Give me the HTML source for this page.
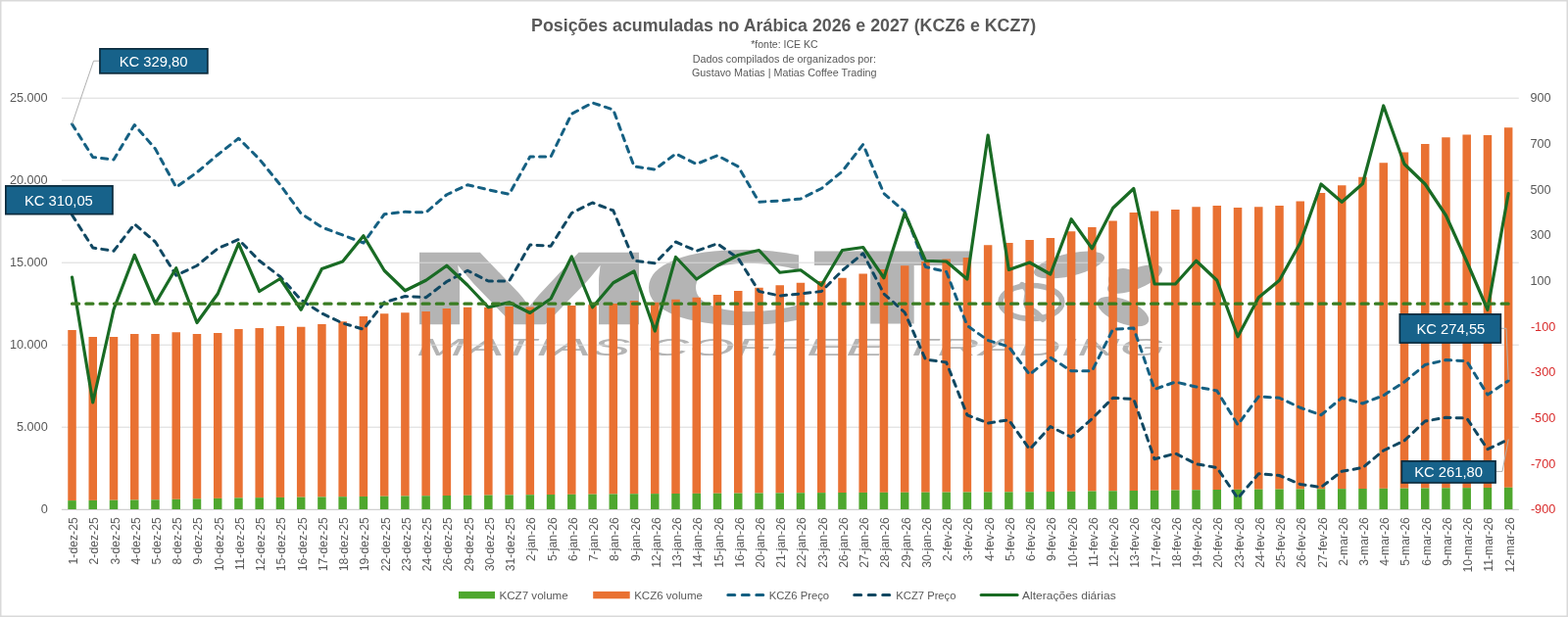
<!DOCTYPE html>
<html lang="pt-BR">
<head>
<meta charset="utf-8">
<title>Posições acumuladas no Arábica 2026 e 2027 (KCZ6 e KCZ7)</title>
<style>
html,body{margin:0;padding:0;background:#fff;}
body{width:1600px;height:630px;overflow:hidden;font-family:"Liberation Sans",sans-serif;}
svg{display:block;}
text{font-family:"Liberation Sans",sans-serif;}
.ax{font-size:12.7px;fill:#595959;}
.neg{font-size:12.7px;fill:#d92b2b;}
.xl{font-size:12.2px;fill:#595959;}
.lg{font-size:11.6px;fill:#595959;}
.sub{font-size:10.5px;fill:#595959;}
.cb{font-size:14.8px;fill:#fff;}
</style>
</head>
<body>
<svg width="1600" height="630" viewBox="0 0 1600 630">
<rect x="0" y="0" width="1600" height="630" fill="#fff"/>
<rect x="0.75" y="0.75" width="1598.5" height="628.5" fill="none" stroke="#d9d9d9" stroke-width="1.5"/>
<g id="watermark" fill="#b4b4b4">
<text transform="translate(406.57 331.3) scale(2.9997 1)" font-weight="bold" font-size="106.8" style="font-family:'Liberation Sans',sans-serif">M</text>
<text transform="translate(649.71 331.3) scale(2.4478 1)" font-weight="bold" font-size="100.8" style="font-family:'DejaVu Sans','Liberation Sans',sans-serif">C</text>
<text transform="translate(829.84 331.3) scale(2.3476 1)" font-weight="bold" font-size="100.8" style="font-family:'DejaVu Sans','Liberation Sans',sans-serif">T</text>
<text x="425" y="363.3" font-style="italic" font-size="23.5" textLength="764" lengthAdjust="spacingAndGlyphs">MATIAS COFFEE TRADING</text>
<g id="branch"><ellipse cx="1052.4" cy="308.5" rx="31.5" ry="17" fill="none" stroke="#b4b4b4" stroke-width="5.5"/><path d="M1043 291 C1056 298 1040 310 1052 316 C1060 320 1062 324 1064 326" fill="none" stroke="#b4b4b4" stroke-width="6" stroke-linecap="round"/><ellipse cx="1091" cy="270.5" rx="37" ry="11.5" transform="rotate(-13 1091 270.5)"/><ellipse cx="1158" cy="285" rx="30" ry="10.5" transform="rotate(-22 1158 285)"/><ellipse cx="1146" cy="286" rx="15" ry="12"/><ellipse cx="1146" cy="318" rx="28" ry="12" transform="rotate(22 1146 318)"/></g>
</g>
<g stroke="#d9d9d9" stroke-width="1">
<line x1="62.9" y1="100.2" x2="1549.8" y2="100.2"/>
<line x1="62.9" y1="184.2" x2="1549.8" y2="184.2"/>
<line x1="62.9" y1="268.2" x2="1549.8" y2="268.2"/>
<line x1="62.9" y1="352.2" x2="1549.8" y2="352.2"/>
<line x1="62.9" y1="436.2" x2="1549.8" y2="436.2"/>
<line x1="62.9" y1="520.2" x2="1549.8" y2="520.2"/>
</g>
<g id="kcz6vol" fill="#e97132">
<rect x="69.27" y="337.00" width="8.5" height="174.10"/>
<rect x="90.51" y="344.00" width="8.5" height="166.90"/>
<rect x="111.75" y="344.00" width="8.5" height="166.70"/>
<rect x="133.00" y="341.00" width="8.5" height="169.50"/>
<rect x="154.24" y="341.00" width="8.5" height="169.30"/>
<rect x="175.48" y="339.25" width="8.5" height="170.57"/>
<rect x="196.72" y="341.00" width="8.5" height="168.35"/>
<rect x="217.96" y="340.00" width="8.5" height="168.88"/>
<rect x="239.20" y="336.00" width="8.5" height="172.40"/>
<rect x="260.44" y="335.00" width="8.5" height="173.16"/>
<rect x="281.69" y="333.00" width="8.5" height="174.92"/>
<rect x="302.93" y="333.75" width="8.5" height="173.93"/>
<rect x="324.17" y="331.00" width="8.5" height="176.44"/>
<rect x="345.41" y="328.25" width="8.5" height="178.95"/>
<rect x="366.65" y="323.00" width="8.5" height="183.96"/>
<rect x="387.89" y="320.25" width="8.5" height="186.47"/>
<rect x="409.13" y="319.25" width="8.5" height="187.23"/>
<rect x="430.38" y="318.00" width="8.5" height="188.24"/>
<rect x="451.62" y="315.00" width="8.5" height="191.00"/>
<rect x="472.86" y="313.75" width="8.5" height="192.06"/>
<rect x="494.10" y="313.75" width="8.5" height="191.86"/>
<rect x="515.34" y="313.00" width="8.5" height="192.42"/>
<rect x="536.58" y="313.50" width="8.5" height="191.72"/>
<rect x="557.82" y="314.25" width="8.5" height="190.78"/>
<rect x="579.06" y="312.00" width="8.5" height="192.83"/>
<rect x="600.31" y="311.25" width="8.5" height="193.39"/>
<rect x="621.55" y="310.00" width="8.5" height="194.44"/>
<rect x="642.79" y="307.00" width="8.5" height="197.25"/>
<rect x="664.03" y="308.75" width="8.5" height="195.38"/>
<rect x="685.27" y="305.75" width="8.5" height="198.25"/>
<rect x="706.51" y="303.75" width="8.5" height="200.12"/>
<rect x="727.75" y="301.00" width="8.5" height="202.75"/>
<rect x="749.00" y="297.00" width="8.5" height="206.62"/>
<rect x="770.24" y="293.75" width="8.5" height="209.75"/>
<rect x="791.48" y="291.25" width="8.5" height="212.12"/>
<rect x="812.72" y="288.75" width="8.5" height="214.50"/>
<rect x="833.96" y="287.00" width="8.5" height="216.12"/>
<rect x="855.20" y="283.75" width="8.5" height="219.25"/>
<rect x="876.44" y="279.50" width="8.5" height="223.42"/>
<rect x="897.69" y="275.00" width="8.5" height="227.84"/>
<rect x="918.93" y="271.25" width="8.5" height="231.52"/>
<rect x="940.17" y="267.00" width="8.5" height="235.69"/>
<rect x="961.41" y="264.50" width="8.5" height="238.11"/>
<rect x="982.65" y="263.00" width="8.5" height="239.53"/>
<rect x="1003.89" y="250.25" width="8.5" height="252.21"/>
<rect x="1025.13" y="248.00" width="8.5" height="254.38"/>
<rect x="1046.38" y="245.00" width="8.5" height="257.30"/>
<rect x="1067.62" y="243.00" width="8.5" height="259.04"/>
<rect x="1088.86" y="236.25" width="8.5" height="265.54"/>
<rect x="1110.10" y="232.00" width="8.5" height="269.53"/>
<rect x="1131.34" y="225.50" width="8.5" height="275.78"/>
<rect x="1152.58" y="217.00" width="8.5" height="284.02"/>
<rect x="1173.83" y="215.50" width="8.5" height="285.27"/>
<rect x="1195.07" y="214.00" width="8.5" height="286.51"/>
<rect x="1216.31" y="211.25" width="8.5" height="289.01"/>
<rect x="1237.55" y="210.00" width="8.5" height="290.00"/>
<rect x="1258.79" y="212.00" width="8.5" height="287.86"/>
<rect x="1280.03" y="211.25" width="8.5" height="288.46"/>
<rect x="1301.27" y="210.00" width="8.5" height="289.57"/>
<rect x="1322.52" y="205.50" width="8.5" height="293.93"/>
<rect x="1343.76" y="197.00" width="8.5" height="302.29"/>
<rect x="1365.00" y="189.25" width="8.5" height="309.89"/>
<rect x="1386.24" y="180.75" width="8.5" height="318.25"/>
<rect x="1407.48" y="166.25" width="8.5" height="332.58"/>
<rect x="1428.72" y="155.50" width="8.5" height="343.16"/>
<rect x="1449.96" y="147.00" width="8.5" height="351.49"/>
<rect x="1471.21" y="140.25" width="8.5" height="358.06"/>
<rect x="1492.45" y="137.50" width="8.5" height="360.64"/>
<rect x="1513.69" y="138.00" width="8.5" height="359.97"/>
<rect x="1534.93" y="130.25" width="8.5" height="367.55"/>
</g>
<g id="kcz7vol" fill="#4ea72e">
<rect x="69.27" y="511.10" width="8.5" height="9.30"/>
<rect x="90.51" y="510.90" width="8.5" height="9.50"/>
<rect x="111.75" y="510.70" width="8.5" height="9.70"/>
<rect x="133.00" y="510.50" width="8.5" height="9.90"/>
<rect x="154.24" y="510.30" width="8.5" height="10.10"/>
<rect x="175.48" y="509.82" width="8.5" height="10.57"/>
<rect x="196.72" y="509.35" width="8.5" height="11.05"/>
<rect x="217.96" y="508.88" width="8.5" height="11.52"/>
<rect x="239.20" y="508.40" width="8.5" height="12.00"/>
<rect x="260.44" y="508.16" width="8.5" height="12.24"/>
<rect x="281.69" y="507.92" width="8.5" height="12.48"/>
<rect x="302.93" y="507.68" width="8.5" height="12.72"/>
<rect x="324.17" y="507.44" width="8.5" height="12.96"/>
<rect x="345.41" y="507.20" width="8.5" height="13.20"/>
<rect x="366.65" y="506.96" width="8.5" height="13.44"/>
<rect x="387.89" y="506.72" width="8.5" height="13.68"/>
<rect x="409.13" y="506.48" width="8.5" height="13.92"/>
<rect x="430.38" y="506.24" width="8.5" height="14.16"/>
<rect x="451.62" y="506.00" width="8.5" height="14.40"/>
<rect x="472.86" y="505.81" width="8.5" height="14.59"/>
<rect x="494.10" y="505.61" width="8.5" height="14.79"/>
<rect x="515.34" y="505.42" width="8.5" height="14.98"/>
<rect x="536.58" y="505.22" width="8.5" height="15.18"/>
<rect x="557.82" y="505.03" width="8.5" height="15.37"/>
<rect x="579.06" y="504.83" width="8.5" height="15.57"/>
<rect x="600.31" y="504.64" width="8.5" height="15.76"/>
<rect x="621.55" y="504.44" width="8.5" height="15.96"/>
<rect x="642.79" y="504.25" width="8.5" height="16.15"/>
<rect x="664.03" y="504.12" width="8.5" height="16.27"/>
<rect x="685.27" y="504.00" width="8.5" height="16.40"/>
<rect x="706.51" y="503.88" width="8.5" height="16.52"/>
<rect x="727.75" y="503.75" width="8.5" height="16.65"/>
<rect x="749.00" y="503.62" width="8.5" height="16.77"/>
<rect x="770.24" y="503.50" width="8.5" height="16.90"/>
<rect x="791.48" y="503.38" width="8.5" height="17.02"/>
<rect x="812.72" y="503.25" width="8.5" height="17.15"/>
<rect x="833.96" y="503.12" width="8.5" height="17.27"/>
<rect x="855.20" y="503.00" width="8.5" height="17.40"/>
<rect x="876.44" y="502.92" width="8.5" height="17.48"/>
<rect x="897.69" y="502.84" width="8.5" height="17.56"/>
<rect x="918.93" y="502.77" width="8.5" height="17.63"/>
<rect x="940.17" y="502.69" width="8.5" height="17.71"/>
<rect x="961.41" y="502.61" width="8.5" height="17.79"/>
<rect x="982.65" y="502.53" width="8.5" height="17.87"/>
<rect x="1003.89" y="502.46" width="8.5" height="17.94"/>
<rect x="1025.13" y="502.38" width="8.5" height="18.02"/>
<rect x="1046.38" y="502.30" width="8.5" height="18.10"/>
<rect x="1067.62" y="502.04" width="8.5" height="18.36"/>
<rect x="1088.86" y="501.79" width="8.5" height="18.61"/>
<rect x="1110.10" y="501.53" width="8.5" height="18.87"/>
<rect x="1131.34" y="501.28" width="8.5" height="19.12"/>
<rect x="1152.58" y="501.02" width="8.5" height="19.38"/>
<rect x="1173.83" y="500.77" width="8.5" height="19.63"/>
<rect x="1195.07" y="500.51" width="8.5" height="19.89"/>
<rect x="1216.31" y="500.26" width="8.5" height="20.14"/>
<rect x="1237.55" y="500.00" width="8.5" height="20.40"/>
<rect x="1258.79" y="499.86" width="8.5" height="20.54"/>
<rect x="1280.03" y="499.71" width="8.5" height="20.69"/>
<rect x="1301.27" y="499.57" width="8.5" height="20.83"/>
<rect x="1322.52" y="499.43" width="8.5" height="20.97"/>
<rect x="1343.76" y="499.29" width="8.5" height="21.11"/>
<rect x="1365.00" y="499.14" width="8.5" height="21.26"/>
<rect x="1386.24" y="499.00" width="8.5" height="21.40"/>
<rect x="1407.48" y="498.83" width="8.5" height="21.57"/>
<rect x="1428.72" y="498.66" width="8.5" height="21.74"/>
<rect x="1449.96" y="498.49" width="8.5" height="21.91"/>
<rect x="1471.21" y="498.31" width="8.5" height="22.09"/>
<rect x="1492.45" y="498.14" width="8.5" height="22.26"/>
<rect x="1513.69" y="497.97" width="8.5" height="22.43"/>
<rect x="1534.93" y="497.80" width="8.5" height="22.60"/>
</g>
<line x1="62.9" y1="520.5" x2="1549.8" y2="520.5" stroke="#d0d0d0" stroke-width="1"/>
<polyline points="73.52,126.75 94.76,160.50 116.00,163.00 137.25,127.50 158.49,152.00 179.73,191.25 200.97,176.00 222.21,158.00 243.45,141.25 264.69,162.50 285.94,188.75 307.18,218.00 328.42,232.00 349.66,240.00 370.90,248.00 392.14,218.75 413.38,216.25 434.62,217.00 455.87,198.75 477.11,188.75 498.35,193.75 519.59,198.25 540.83,160.00 562.07,160.00 583.31,116.25 604.56,105.00 625.80,112.00 647.04,170.00 668.28,173.00 689.52,157.00 710.76,167.50 732.00,158.75 753.25,170.00 774.49,206.25 795.73,205.00 816.97,203.00 838.21,192.50 859.45,175.00 880.69,147.50 901.94,197.50 923.18,216.00 944.42,272.50 965.66,277.50 986.90,332.50 1008.14,347.50 1029.38,354.00 1050.63,382.50 1071.87,365.00 1093.11,378.75 1114.35,378.75 1135.59,336.25 1156.83,335.00 1178.08,397.50 1199.32,390.00 1220.56,395.00 1241.80,399.00 1263.04,433.75 1284.28,405.00 1305.52,406.25 1326.77,416.25 1348.01,423.75 1369.25,406.25 1390.49,412.00 1411.73,403.75 1432.97,390.00 1454.21,372.50 1475.46,367.50 1496.70,368.75 1517.94,403.00 1539.18,388.75" fill="none" stroke="#156082" stroke-width="3" stroke-dasharray="6.1 6.1" stroke-linecap="round" stroke-linejoin="round"/>
<polyline points="73.52,219.50 94.76,253.00 116.00,256.25 137.25,228.75 158.49,247.00 179.73,281.25 200.97,271.25 222.21,253.75 243.45,244.50 264.69,266.25 285.94,282.50 307.18,306.25 328.42,320.00 349.66,330.00 370.90,336.25 392.14,308.75 413.38,302.50 434.62,303.75 455.87,287.50 477.11,276.25 498.35,287.00 519.59,287.00 540.83,250.00 562.07,251.25 583.31,217.50 604.56,207.00 625.80,215.00 647.04,266.25 668.28,268.75 689.52,247.00 710.76,256.25 732.00,248.75 753.25,263.75 774.49,297.50 795.73,302.00 816.97,300.00 838.21,297.50 859.45,276.25 880.69,258.75 901.94,300.00 923.18,319.00 944.42,367.00 965.66,370.00 986.90,423.75 1008.14,432.00 1029.38,428.75 1050.63,458.75 1071.87,435.50 1093.11,446.25 1114.35,427.50 1135.59,406.25 1156.83,407.50 1178.08,468.75 1199.32,463.00 1220.56,473.75 1241.80,477.50 1263.04,508.75 1284.28,483.75 1305.52,485.50 1326.77,494.50 1348.01,497.50 1369.25,481.25 1390.49,477.50 1411.73,460.00 1432.97,450.00 1454.21,430.00 1475.46,426.25 1496.70,427.00 1517.94,458.75 1539.18,448.75" fill="none" stroke="#104862" stroke-width="3" stroke-dasharray="6.1 6.1" stroke-linecap="round" stroke-linejoin="round"/>
<polyline points="73.52,283.00 94.76,411.00 116.00,316.00 137.25,260.50 158.49,310.00 179.73,273.75 200.97,329.50 222.21,300.00 243.45,248.75 264.69,297.50 285.94,284.50 307.18,316.25 328.42,274.50 349.66,267.00 370.90,240.75 392.14,276.25 413.38,296.75 434.62,286.25 455.87,271.25 477.11,291.25 498.35,313.75 519.59,308.75 540.83,319.50 562.07,305.00 583.31,262.00 604.56,313.75 625.80,288.75 647.04,277.00 668.28,338.00 689.52,262.50 710.76,285.00 732.00,271.25 753.25,260.50 774.49,255.50 795.73,278.25 816.97,275.75 838.21,291.25 859.45,255.50 880.69,252.50 901.94,283.75 923.18,217.50 944.42,266.25 965.66,267.00 986.90,285.00 1008.14,138.00 1029.38,275.50 1050.63,268.00 1071.87,280.00 1093.11,223.75 1114.35,253.75 1135.59,212.50 1156.83,192.50 1178.08,290.00 1199.32,290.00 1220.56,266.25 1241.80,286.25 1263.04,343.75 1284.28,303.75 1305.52,286.25 1326.77,248.00 1348.01,188.00 1369.25,206.25 1390.49,187.50 1411.73,108.00 1432.97,167.50 1454.21,188.00 1475.46,220.00 1496.70,267.00 1517.94,316.25 1539.18,197.50" fill="none" stroke="#196b24" stroke-width="3.2" stroke-linecap="round" stroke-linejoin="round"/>
<line x1="73.52" y1="310.2" x2="1539.18" y2="310.2" stroke="#3a7c22" stroke-width="3.2" stroke-dasharray="7.1 7.2" stroke-linecap="round"/>
<g class="ax" text-anchor="end">
<text x="48.7" y="104.3">25.000</text>
<text x="48.7" y="188.3">20.000</text>
<text x="48.7" y="272.3">15.000</text>
<text x="48.7" y="356.3">10.000</text>
<text x="48.7" y="440.3">5.000</text>
<text x="48.7" y="524.3">0</text>
</g>
<g text-anchor="end">
<text class="ax" x="1582.6" y="104.3">900</text>
<text class="ax" x="1582.6" y="151.0">700</text>
<text class="ax" x="1582.6" y="197.6">500</text>
<text class="ax" x="1582.6" y="244.3">300</text>
<text class="ax" x="1582.6" y="291.0">100</text>
<text class="neg" x="1587.3" y="337.6">-100</text>
<text class="neg" x="1587.3" y="384.3">-300</text>
<text class="neg" x="1587.3" y="431.0">-500</text>
<text class="neg" x="1587.3" y="477.6">-700</text>
<text class="neg" x="1587.3" y="524.3">-900</text>
</g>
<g class="xl" text-anchor="end">
<text transform="translate(79.02 528.3) rotate(-90)">1-dez-25</text>
<text transform="translate(100.26 528.3) rotate(-90)">2-dez-25</text>
<text transform="translate(121.50 528.3) rotate(-90)">3-dez-25</text>
<text transform="translate(142.75 528.3) rotate(-90)">4-dez-25</text>
<text transform="translate(163.99 528.3) rotate(-90)">5-dez-25</text>
<text transform="translate(185.23 528.3) rotate(-90)">8-dez-25</text>
<text transform="translate(206.47 528.3) rotate(-90)">9-dez-25</text>
<text transform="translate(227.71 528.3) rotate(-90)">10-dez-25</text>
<text transform="translate(248.95 528.3) rotate(-90)">11-dez-25</text>
<text transform="translate(270.19 528.3) rotate(-90)">12-dez-25</text>
<text transform="translate(291.44 528.3) rotate(-90)">15-dez-25</text>
<text transform="translate(312.68 528.3) rotate(-90)">16-dez-25</text>
<text transform="translate(333.92 528.3) rotate(-90)">17-dez-25</text>
<text transform="translate(355.16 528.3) rotate(-90)">18-dez-25</text>
<text transform="translate(376.40 528.3) rotate(-90)">19-dez-25</text>
<text transform="translate(397.64 528.3) rotate(-90)">22-dez-25</text>
<text transform="translate(418.88 528.3) rotate(-90)">23-dez-25</text>
<text transform="translate(440.12 528.3) rotate(-90)">24-dez-25</text>
<text transform="translate(461.37 528.3) rotate(-90)">26-dez-25</text>
<text transform="translate(482.61 528.3) rotate(-90)">29-dez-25</text>
<text transform="translate(503.85 528.3) rotate(-90)">30-dez-25</text>
<text transform="translate(525.09 528.3) rotate(-90)">31-dez-25</text>
<text transform="translate(546.33 528.3) rotate(-90)">2-jan-26</text>
<text transform="translate(567.57 528.3) rotate(-90)">5-jan-26</text>
<text transform="translate(588.81 528.3) rotate(-90)">6-jan-26</text>
<text transform="translate(610.06 528.3) rotate(-90)">7-jan-26</text>
<text transform="translate(631.30 528.3) rotate(-90)">8-jan-26</text>
<text transform="translate(652.54 528.3) rotate(-90)">9-jan-26</text>
<text transform="translate(673.78 528.3) rotate(-90)">12-jan-26</text>
<text transform="translate(695.02 528.3) rotate(-90)">13-jan-26</text>
<text transform="translate(716.26 528.3) rotate(-90)">14-jan-26</text>
<text transform="translate(737.50 528.3) rotate(-90)">15-jan-26</text>
<text transform="translate(758.75 528.3) rotate(-90)">16-jan-26</text>
<text transform="translate(779.99 528.3) rotate(-90)">20-jan-26</text>
<text transform="translate(801.23 528.3) rotate(-90)">21-jan-26</text>
<text transform="translate(822.47 528.3) rotate(-90)">22-jan-26</text>
<text transform="translate(843.71 528.3) rotate(-90)">23-jan-26</text>
<text transform="translate(864.95 528.3) rotate(-90)">26-jan-26</text>
<text transform="translate(886.19 528.3) rotate(-90)">27-jan-26</text>
<text transform="translate(907.44 528.3) rotate(-90)">28-jan-26</text>
<text transform="translate(928.68 528.3) rotate(-90)">29-jan-26</text>
<text transform="translate(949.92 528.3) rotate(-90)">30-jan-26</text>
<text transform="translate(971.16 528.3) rotate(-90)">2-fev-26</text>
<text transform="translate(992.40 528.3) rotate(-90)">3-fev-26</text>
<text transform="translate(1013.64 528.3) rotate(-90)">4-fev-26</text>
<text transform="translate(1034.88 528.3) rotate(-90)">5-fev-26</text>
<text transform="translate(1056.13 528.3) rotate(-90)">6-fev-26</text>
<text transform="translate(1077.37 528.3) rotate(-90)">9-fev-26</text>
<text transform="translate(1098.61 528.3) rotate(-90)">10-fev-26</text>
<text transform="translate(1119.85 528.3) rotate(-90)">11-fev-26</text>
<text transform="translate(1141.09 528.3) rotate(-90)">12-fev-26</text>
<text transform="translate(1162.33 528.3) rotate(-90)">13-fev-26</text>
<text transform="translate(1183.58 528.3) rotate(-90)">17-fev-26</text>
<text transform="translate(1204.82 528.3) rotate(-90)">18-fev-26</text>
<text transform="translate(1226.06 528.3) rotate(-90)">19-fev-26</text>
<text transform="translate(1247.30 528.3) rotate(-90)">20-fev-26</text>
<text transform="translate(1268.54 528.3) rotate(-90)">23-fev-26</text>
<text transform="translate(1289.78 528.3) rotate(-90)">24-fev-26</text>
<text transform="translate(1311.02 528.3) rotate(-90)">25-fev-26</text>
<text transform="translate(1332.27 528.3) rotate(-90)">26-fev-26</text>
<text transform="translate(1353.51 528.3) rotate(-90)">27-fev-26</text>
<text transform="translate(1374.75 528.3) rotate(-90)">2-mar-26</text>
<text transform="translate(1395.99 528.3) rotate(-90)">3-mar-26</text>
<text transform="translate(1417.23 528.3) rotate(-90)">4-mar-26</text>
<text transform="translate(1438.47 528.3) rotate(-90)">5-mar-26</text>
<text transform="translate(1459.71 528.3) rotate(-90)">6-mar-26</text>
<text transform="translate(1480.96 528.3) rotate(-90)">9-mar-26</text>
<text transform="translate(1502.20 528.3) rotate(-90)">10-mar-26</text>
<text transform="translate(1523.44 528.3) rotate(-90)">11-mar-26</text>
<text transform="translate(1544.68 528.3) rotate(-90)">12-mar-26</text>
</g>
<text x="799.6" y="32.3" text-anchor="middle" font-weight="bold" font-size="19.2" fill="#595959" textLength="515" lengthAdjust="spacingAndGlyphs">Posições acumuladas no Arábica 2026 e 2027 (KCZ6 e KCZ7)</text>
<g class="sub" text-anchor="middle">
<text x="800.4" y="48.9" textLength="68.4" lengthAdjust="spacingAndGlyphs">*fonte: ICE KC</text>
<text x="800.3" y="63.8" textLength="187.3" lengthAdjust="spacingAndGlyphs">Dados compilados de organizados por:</text>
<text x="800.3" y="77.9" textLength="188.6" lengthAdjust="spacingAndGlyphs">Gustavo Matias | Matias Coffee Trading</text>
</g>
<polyline points="101,62.2 95.5,62.2 73.5,126.7" fill="none" stroke="#b0b0b0" stroke-width="1"/>
<rect x="101.95" y="49.85" width="109.90" height="25.00" fill="#17628a" stroke="#0b2b3d" stroke-width="1.7"/>
<text class="cb" x="156.6" y="67.6" text-anchor="middle">KC 329,80</text>
<rect x="5.85" y="189.85" width="109.10" height="28.80" fill="#17628a" stroke="#0b2b3d" stroke-width="1.7"/>
<text class="cb" x="59.9" y="210.2" text-anchor="middle">KC 310,05</text>
<polyline points="1532,335.3 1537,335.3 1539.2,388" fill="none" stroke="#b0b0b0" stroke-width="1"/>
<rect x="1428.35" y="320.85" width="103.00" height="29.20" fill="#17628a" stroke="#0b2b3d" stroke-width="1.7"/>
<text class="cb" x="1480.4" y="341.2" text-anchor="middle">KC 274,55</text>
<polyline points="1527,481.4 1533,481.4 1539.2,448.5" fill="none" stroke="#b0b0b0" stroke-width="1"/>
<rect x="1430.35" y="470.85" width="95.70" height="22.10" fill="#17628a" stroke="#0b2b3d" stroke-width="1.7"/>
<text class="cb" x="1478.1" y="487.1" text-anchor="middle">KC 261,80</text>
<rect x="468" y="603.9" width="37" height="7.4" fill="#4ea72e"/>
<text class="lg" x="509.5" y="611.7" textLength="70.2" lengthAdjust="spacingAndGlyphs">KCZ7 volume</text>
<rect x="605.2" y="603.9" width="37.5" height="7.4" fill="#e97132"/>
<text class="lg" x="647.2" y="611.7" textLength="69.8" lengthAdjust="spacingAndGlyphs">KCZ6 volume</text>
<line x1="742.8" y1="607.6" x2="779.5" y2="607.6" stroke="#156082" stroke-width="3" stroke-dasharray="7 7.5" stroke-linecap="round"/>
<text class="lg" x="784.7" y="611.7" textLength="61.4" lengthAdjust="spacingAndGlyphs">KCZ6 Preço</text>
<line x1="871.7" y1="607.6" x2="908.4" y2="607.6" stroke="#104862" stroke-width="3" stroke-dasharray="7 7.5" stroke-linecap="round"/>
<text class="lg" x="914.3" y="611.7" textLength="61.2" lengthAdjust="spacingAndGlyphs">KCZ7 Preço</text>
<line x1="1001.1" y1="607.6" x2="1038.1" y2="607.6" stroke="#196b24" stroke-width="3" stroke-linecap="round"/>
<text class="lg" x="1043" y="611.7" textLength="95.7" lengthAdjust="spacingAndGlyphs">Alterações diárias</text>
</svg>
</body>
</html>
